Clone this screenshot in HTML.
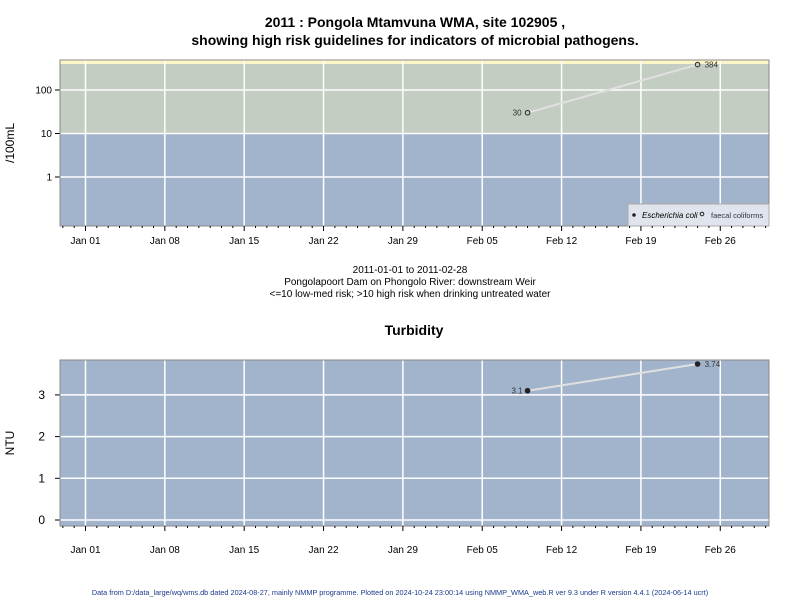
<!DOCTYPE html>
<html><head><meta charset="utf-8"><style>
body{margin:0;background:#fff;font-family:"Liberation Sans",Arial,sans-serif}
svg text{font-family:"Liberation Sans",Arial,sans-serif}
</style></head><body>
<svg width="800" height="600" xmlns="http://www.w3.org/2000/svg" id="chart">
<text x="415" y="27" text-anchor="middle" font-size="14" font-weight="bold">2011 : Pongola Mtamvuna WMA, site 102905 ,</text>
<text x="415" y="45" text-anchor="middle" font-size="14" font-weight="bold">showing high risk guidelines for indicators of microbial pathogens.</text>
<g id="topPanel"></g>
<g id="botPanel"></g>
<text x="410" y="273" text-anchor="middle" font-size="10">2011-01-01 to 2011-02-28</text>
<text x="410" y="285" text-anchor="middle" font-size="10">Pongolapoort Dam on Phongolo River: downstream Weir</text>
<text x="410" y="297" text-anchor="middle" font-size="10">&lt;=10 low-med risk; &gt;10 high risk when drinking untreated water</text>
<text x="414" y="335" text-anchor="middle" font-size="14" font-weight="bold">Turbidity</text>
<text transform="translate(14,143) rotate(-90)" text-anchor="middle" font-size="12">/100mL</text>
<text transform="translate(14,443) rotate(-90)" text-anchor="middle" font-size="12">NTU</text>
<text x="400" y="595" text-anchor="middle" font-size="7.3" fill="#1a3a8a">Data from D:/data_large/wq/wms.db dated 2024-08-27, mainly NMMP programme. Plotted on 2024-10-24 23:00:14 using NMMP_WMA_web.R ver 9.3 under R version 4.4.1 (2024-06-14 ucrt)</text>
</svg>
<script>
const xTickLabels=["Jan 01","Jan 08","Jan 15","Jan 22","Jan 29","Feb 05","Feb 12","Feb 19","Feb 26"];
const xTickDays=[0,7,14,21,28,35,42,49,56];
const fcDays=[39,54];
const fcValues=[30,384];
const fcLabels=["30","384"];
const turbDays=[39,54];
const turbValues=[3.1,3.74];
const turbLabels=["3.1","3.74"];
const topYTicks=[1,10,100];
const botYTicks=[0,1,2,3];

const NS="http://www.w3.org/2000/svg";
const L=60,R=769;
const x=d=>L+(d+2.25)*(R-L)/62.55;
function el(p,t,a){const e=document.createElementNS(NS,t);for(const k in a)e.setAttribute(k,a[k]);p.appendChild(e);return e;}
const topG=document.getElementById('topPanel'),botG=document.getElementById('botPanel');
const yT=v=>177-Math.log10(v)*43.5;
const yB=v=>520-v*41.7;

function axisX(g,y0,ty){
  for(let d=-2;d<=60;d++){
    const t=el(g,'line',{x1:x(d),x2:x(d),y1:y0,y2:y0+(xTickDays.includes(d)?5:2),stroke:'#000'});
    
    
  }
  xTickLabels.forEach((s,i)=>{
    const t=el(g,'text',{x:x(xTickDays[i]),y:ty,'text-anchor':'middle','font-size':10});
    t.textContent=s;
    
    
  });
}
function grid(g,y1,y2){
  xTickDays.forEach(d=>{
    const l=el(g,'line',{x1:x(d),x2:x(d),y1:y1,y2:y2,stroke:'#fff','stroke-width':1.5});
    
    
  });
}
// top panel
let r=el(topG,'rect',{x:L,y:60,width:R-L,height:166,fill:'#a2b4cc'});

r=el(topG,'rect',{x:L,y:60,width:R-L,height:yT(10)-60,fill:'#c3cdc1'});

r=el(topG,'rect',{x:L,y:60,width:R-L,height:4,fill:'#fdf7c8'});

grid(topG,60,226);
topYTicks.forEach(v=>{
  const l=el(topG,'line',{x1:L,x2:R,y1:yT(v),y2:yT(v),stroke:'#fff','stroke-width':1.5});
  
  const t=el(topG,'line',{x1:L-5,x2:L,y1:yT(v),y2:yT(v),stroke:'#000'});
  
  const s=el(topG,'text',{x:L-8,y:yT(v)+3.5,'text-anchor':'end','font-size':10});
  s.textContent=v;
  
});
let pl=el(topG,'polyline',{points:fcDays.map((d,i)=>x(d)+','+yT(fcValues[i])).join(' '),fill:'none',stroke:'#e0e0e0','stroke-width':2});

fcDays.forEach((d,i)=>{
  const c=el(topG,'circle',{cx:x(d),cy:yT(fcValues[i]),r:2.3,fill:'#c3cdc1',stroke:'#222'});
  
  const t=el(topG,'text',{x:x(d)+(i==0?-6:7),y:yT(fcValues[i])+3,'text-anchor':i==0?'end':'start','font-size':8,fill:'#333'});
  t.textContent=fcLabels[i];
  
});
r=el(topG,'rect',{x:L,y:60,width:R-L,height:166,fill:'none',stroke:'#888'});

// legend
let lg=el(topG,'g',{});

el(lg,'rect',{x:628,y:204,width:141,height:22,fill:'#e0e4ec',stroke:'#aaa'});
el(lg,'circle',{cx:634,cy:215,r:1.8,fill:'#222'});
let t=el(lg,'text',{x:642,y:218,'font-size':8,'font-style':'italic'});t.textContent='Escherichia coli';

el(lg,'circle',{cx:702,cy:214,r:1.8,fill:'none',stroke:'#222'});
t=el(lg,'text',{x:711,y:218,'font-size':7.5,fill:'#334'});t.textContent='faecal coliforms';

axisX(topG,226,244);

// bottom panel
r=el(botG,'rect',{x:L,y:360,width:R-L,height:166,fill:'#a2b4cc'});

grid(botG,360,526);
botYTicks.forEach(v=>{
  const l=el(botG,'line',{x1:L,x2:R,y1:yB(v),y2:yB(v),stroke:'#fff','stroke-width':1.5});
  
  const tk=el(botG,'line',{x1:L-5,x2:L,y1:yB(v),y2:yB(v),stroke:'#000'});
  
  const s=el(botG,'text',{x:L-15,y:yB(v)+4,'text-anchor':'end','font-size':12});
  s.textContent=v;
  
});
pl=el(botG,'polyline',{points:turbDays.map((d,i)=>x(d)+','+yB(turbValues[i])).join(' '),fill:'none',stroke:'#e0e0e0','stroke-width':2});

turbDays.forEach((d,i)=>{
  const c=el(botG,'circle',{cx:x(d),cy:yB(turbValues[i]),r:2.8,fill:'#222'});
  
  const s=el(botG,'text',{x:x(d)+(i==0?-5:7),y:yB(turbValues[i])+3,'text-anchor':i==0?'end':'start','font-size':8,fill:'#333'});
  s.textContent=turbLabels[i];
  
});
r=el(botG,'rect',{x:L,y:360,width:R-L,height:166,fill:'none',stroke:'#888'});

axisX(botG,526,553);
</script>
</body></html>
